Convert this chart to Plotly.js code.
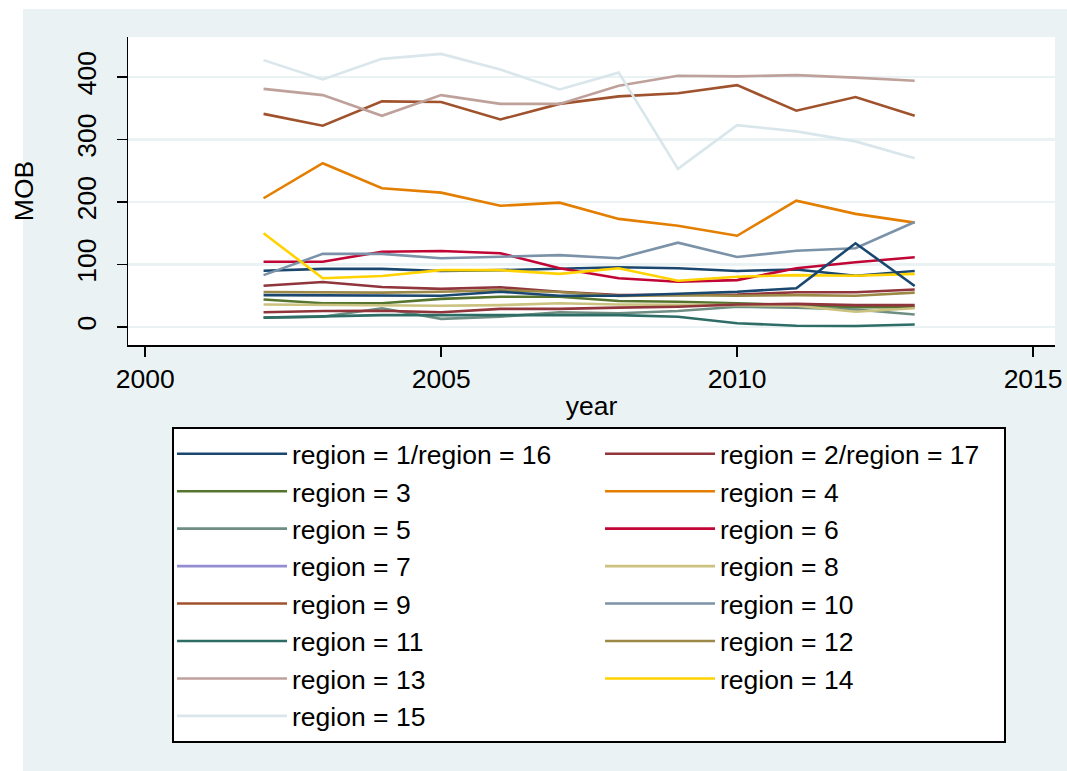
<!DOCTYPE html>
<html><head><meta charset="utf-8">
<script src="https://cdn.plot.ly/plotly-3.0.1.min.js"></script>
<style>
html,body{margin:0;padding:0;background:#fff;}
#bg{position:absolute;left:23px;top:9px;width:1044px;height:762px;background:#EAF2F3;}
#chart{position:absolute;left:0;top:0;width:1067px;height:771px;}
</style></head>
<body>
<div id="bg"></div>
<div id="chart"></div>
<script>
const years = [2002,2003,2004,2005,2006,2007,2008,2009,2010,2011,2012,2013];
const regionNames = ["region = 1/region = 16","region = 2/region = 17","region = 3","region = 4","region = 5","region = 6","region = 7","region = 8","region = 9","region = 10","region = 11","region = 12","region = 13","region = 14","region = 15","region = 16","region = 17"];
const r1  = [90, 93, 93, 89.6, 91, 93, 95.5, 94, 89.6, 92, 82, 89.6];
const r2  = [66, 72, 64, 61, 63.5, 56.5, 51, 51, 52, 55.5, 55.5, 60];
const r3  = [44, 38, 38, 45, 48.5, 48.5, 41.6, 40.5, 38, 35, 31.5, 31.5];
const r4  = [206, 262, 222, 215, 194, 199, 173, 162, 146, 202, 181, 167];
const r5  = [15, 16.5, 30, 13, 16.5, 23.5, 22, 25.6, 32.5, 31, 28, 20];
const r6  = [104.5, 104.5, 120.5, 121.6, 118, 94, 78, 72.5, 75, 94, 103.5, 111.5];
const r7  = [null, null, null, null, null, null, null, null, null, null, null, null];
const r8  = [36, 35, 35, 34, 35, 38, 36, 36, 35, 34, 24.5, 30];
const r9  = [341, 322, 361, 360, 332, 357, 369, 374, 387, 346, 368, 338];
const r10 = [83, 117, 117, 110, 112.5, 115, 110, 135, 112, 122, 126, 168];
const r11 = [15, 16.5, 19, 19, 19, 20, 19, 16.5, 6, 2, 1.6, 4];
const r12 = [56, 55, 55, 56.5, 59, 56, 49.6, 51, 50, 51, 50, 55];
const r13 = [381, 371, 338, 371, 357, 357, 386, 402, 401, 403, 399, 394];
const r14 = [150, 78, 81.6, 91, 91, 85, 94, 74, 80.5, 83, 82, 85];
const r15 = [427, 396, 429, 437, 412, 380, 407, 253, 323, 313, 297, 270];
const r16 = [51, 51, 50, 50, 56.5, 50, 50, 52.8, 56.5, 62, 134, 65.6];
const r17 = [23.5, 25.6, 26, 23.5, 29, 29, 31, 32.5, 36, 37, 35, 35];
const series = [r1,r2,r3,r4,r5,r6,r7,r8,r9,r10,r11,r12,r13,r14,r15,r16,r17];
const colors = ["#1A476F","#90353B","#55752F","#E37E00","#6E8E84","#C10534","#938DD2","#CAC27E","#A0522D","#7B92A8","#2D6D66","#9C8847","#BFA19C","#FFD200","#D9E6EB","#1A476F","#90353B"];
const xTicks = [2000, 2005, 2010, 2015];
const yTicks = [0, 100, 200, 300, 400];

const FONT = "Liberation Sans, Arial, sans-serif";
const FS = 26.5;
const traces = series.map((s, i) => ({
  type: "scatter", mode: "lines", x: years, y: s,
  name: regionNames[i], showlegend: i < 15,
  line: {color: colors[i], width: 2.6},
  hoverinfo: "skip"
}));

const layout = {
  width: 1067, height: 771,
  margin: {l: 128, r: 12, t: 37, b: 426},
  paper_bgcolor: "rgba(0,0,0,0)",
  plot_bgcolor: "#ffffff",
  font: {family: FONT, size: FS, color: "#000"},
  xaxis: {
    range: [1999.71, 2015.37], tickvals: xTicks, ticktext: xTicks.map(String),
    showgrid: false, zeroline: false, showline: true, linecolor: "#000", linewidth: 1.5,
    ticks: "outside", ticklen: 10, tickwidth: 1.5, tickcolor: "#000",
    tickfont: {size: FS}, title: {text: "year", font: {size: FS}, standoff: 3}
  },
  yaxis: {
    range: [-28.8, 464], tickvals: yTicks, ticktext: yTicks.map(String),
    showgrid: true, gridcolor: "#EAF2F3", gridwidth: 2.5, zeroline: false,
    showline: true, linecolor: "#000", linewidth: 1.5,
    ticks: "outside", ticklen: 10, tickwidth: 1.5, tickcolor: "#000",
    tickangle: -90, tickfont: {size: FS}, ticklabelstandoff: 10,
    title: {text: "MOB", font: {size: FS}, standoff: 30}
  },
  shapes: [{
    type: "rect", xref: "paper", yref: "paper",
    x0: 0.04854, x1: 0.94606, y0: -1.2890, y1: -0.2695,
    fillcolor: "#ffffff", line: {color: "#000", width: 2}, layer: "above"
  }],
  legend: {
    orientation: "h", x: 0.0475, y: -0.276, xanchor: "left", yanchor: "top",
    bgcolor: "rgba(0,0,0,0)", borderwidth: 0,
    font: {family: FONT, size: FS, color: "#000"},
    entrywidth: 303, entrywidthmode: "pixels", itemwidth: 110,
    traceorder: "normal"
  },
  showlegend: true
};
Plotly.newPlot("chart", traces, layout, {staticPlot: true});
</script>
</body></html>
